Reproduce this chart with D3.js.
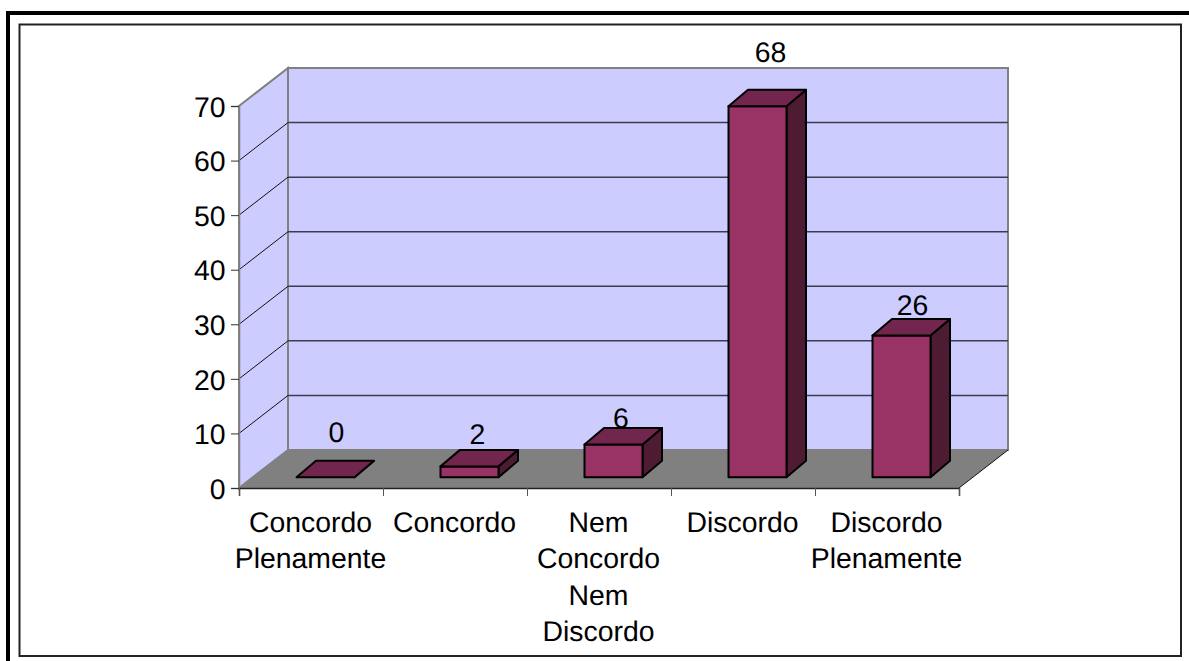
<!DOCTYPE html>
<html><head><meta charset="utf-8">
<script src="https://cdn.jsdelivr.net/npm/d3@7/dist/d3.min.js"></script>
<style>
html,body{margin:0;padding:0;background:#fff}
svg{display:block}
text{font-family:"Liberation Sans",Arial,sans-serif;font-size:28.4px;fill:#000;text-rendering:geometricPrecision}
</style></head><body>
<svg id="chart" width="1189" height="661"></svg>
<script>
const categories = [
  ["Concordo","Plenamente"],
  ["Concordo"],
  ["Nem","Concordo","Nem","Discordo"],
  ["Discordo"],
  ["Discordo","Plenamente"]
];
const values = [0, 2, 6, 68, 26];
const valueTicks = [0, 10, 20, 30, 40, 50, 60, 70];

// Front plane of the pseudo-3D box, and the depth vector running to the back wall.
const plot = {left: 239, right: 959, bottom: 488, top: 106};
const depth = {dx: 49, dy: -38};
const barDepth = {dx: 19.5, dy: -16.5};
const barFrontShift = {dx: 14.5, dy: -10.7};
const barWidthPx = 58;
// Hand placement of each value label relative to its bar's back edge.
const labelShiftX = [11, 8, 7.5, 13, 11];
const labelLift = [19, 6, 0, 28, 3.5];

const svg = d3.select("#chart");
const x = d3.scaleBand().domain(d3.range(values.length)).range([plot.left, plot.right]);
const xEdges = d3.scaleLinear().domain([0, values.length]).range([plot.left, plot.right]);
const y = d3.scaleLinear().domain([0, 70]).range([plot.bottom, plot.top]);
const poly = pts => pts.map(p => p.join(",")).join(" ");

// Page frames
svg.append("path").attr("d", "M8 661V13H1189").attr("fill", "none").attr("stroke", "#000").attr("stroke-width", 4);
svg.append("rect").attr("x", 19.5).attr("y", 24.5).attr("width", 1161.5).attr("height", 631.5)
  .attr("fill", "#fff").attr("stroke", "#222").attr("stroke-width", 2);

// Side wall, back wall and floor
svg.append("polygon").attr("fill", "#ccccff").attr("stroke", "#808080").attr("stroke-width", 2)
  .attr("points", poly([[plot.left, y(0)], [plot.left + depth.dx, y(0) + depth.dy], [plot.left + depth.dx, y(70) + depth.dy], [plot.left, y(70)]]));
svg.append("rect").attr("x", plot.left + depth.dx).attr("y", y(70) + depth.dy)
  .attr("width", plot.right - plot.left).attr("height", y(0) - y(70))
  .attr("fill", "#ccccff").attr("stroke", "#808080").attr("stroke-width", 2);
svg.append("polygon").attr("fill", "#808080")
  .attr("points", poly([[plot.left, y(0)], [plot.right, y(0)], [plot.right + depth.dx, y(0) + depth.dy], [plot.left + depth.dx, y(0) + depth.dy]]));

// Gridlines wrap from the side wall onto the back wall
const grid = svg.append("g");
valueTicks.filter(t => t > 0 && t < 70).forEach(t => {
  grid.append("line").attr("x1", plot.left).attr("y1", y(t))
    .attr("x2", plot.left + depth.dx).attr("y2", y(t) + depth.dy).attr("stroke", "#111").attr("stroke-width", 1);
  grid.append("line").attr("x1", plot.left + depth.dx).attr("y1", y(t) + depth.dy)
    .attr("x2", plot.right + depth.dx).attr("y2", y(t) + depth.dy).attr("stroke", "#3c3c50").attr("stroke-width", 1.5);
});
svg.append("line").attr("x1", plot.right).attr("y1", y(0)).attr("x2", plot.right + depth.dx).attr("y2", y(0) + depth.dy)
  .attr("stroke", "#111").attr("stroke-width", 1);

// Axes
const yAxis = svg.append("g").attr("transform", `translate(${plot.left},0)`)
  .call(d3.axisLeft(y).tickValues(valueTicks).tickSize(8).tickPadding(5.5));
yAxis.select(".domain").attr("stroke", "#808080").attr("stroke-width", 1.5);
yAxis.selectAll("line").attr("stroke", "#333");
yAxis.selectAll("text").style("font-size", "28.4px").style("font-family", '"Liberation Sans"').attr("dy", "0.36em");

const xAxis = svg.append("g").attr("transform", `translate(0,${plot.bottom})`)
  .call(d3.axisBottom(xEdges).tickValues(d3.range(values.length + 1)).tickSize(8).tickFormat(""));
xAxis.select(".domain").attr("stroke", "#222").attr("stroke-width", 1.5);
xAxis.selectAll("line").attr("stroke", "#555");

// Category labels, one text line per stored row
svg.append("g").selectAll("text").data(categories).join("text")
  .attr("text-anchor", "middle")
  .attr("transform", (d, i) => `translate(${x(i) + x.bandwidth() / 2 - 0.5},532)`)
  .selectAll("tspan").data(d => d).join("tspan")
  .attr("x", 0).attr("y", (d, i) => i * 36.3).text(d => d);

// Bars: top, side and front faces
const bars = svg.append("g").selectAll("g").data(values).join("g");
const bx = i => x(i) + x.bandwidth() / 2 - barWidthPx / 2 + barFrontShift.dx;
const barTop = v => y(v) + barFrontShift.dy;
const barBase = barTop(0);
const edge = s => s.attr("stroke", "#000").attr("stroke-width", 2).attr("stroke-linejoin", "round");

bars.append("polygon").attr("fill", "#4d1c33").call(edge)
  .attr("points", (d, i) => poly([
    [bx(i) + barWidthPx, barBase], [bx(i) + barWidthPx + barDepth.dx, barBase + barDepth.dy],
    [bx(i) + barWidthPx + barDepth.dx, barTop(d) + barDepth.dy], [bx(i) + barWidthPx, barTop(d)]]));
bars.append("rect").attr("fill", "#993366").call(edge)
  .attr("x", (d, i) => bx(i)).attr("y", d => barTop(d))
  .attr("width", barWidthPx).attr("height", d => barBase - barTop(d));
bars.append("polygon").attr("fill", "#73264d").call(edge)
  .attr("points", (d, i) => poly([
    [bx(i), barTop(d)], [bx(i) + barWidthPx, barTop(d)],
    [bx(i) + barWidthPx + barDepth.dx, barTop(d) + barDepth.dy], [bx(i) + barDepth.dx, barTop(d) + barDepth.dy]]));

// Value labels sit above the back edge of each bar
bars.append("text").attr("text-anchor", "middle")
  .attr("x", (d, i) => bx(i) + barWidthPx / 2 + labelShiftX[i])
  .attr("y", (d, i) => barTop(d) + barDepth.dy - labelLift[i])
  .text(d => d);
</script>
</body></html>
